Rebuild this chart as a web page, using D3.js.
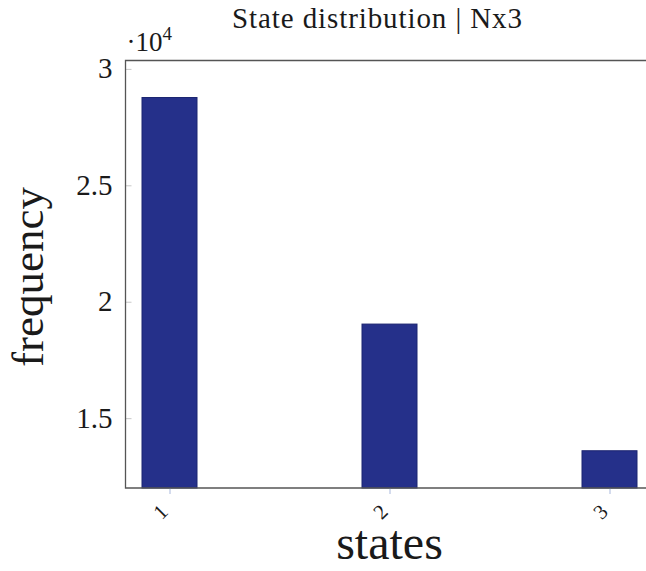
<!DOCTYPE html>
<html>
<head>
<meta charset="utf-8">
<script src="https://cdn.jsdelivr.net/npm/d3@7"></script>
<style>
  html, body { margin: 0; padding: 0; background: #fff; }
  svg { display: block; }
  text { font-family: "Liberation Serif", "DejaVu Serif", serif; fill: #1a1a1a; }
</style>
</head>
<body>
<script>
// State frequencies
const states = [1, 2, 3];
const frequency = [28770, 19040, 13600];
const yTicks = [15000, 20000, 25000, 30000];
const yTickLabels = ["1.5", "2", "2.5", "3"];
const title = "State distribution | Nx3";

const W = 646, H = 571;
const frame = { left: 125.5, right: 653.5, top: 60.5, bottom: 488 };

const svg = d3.select("body").append("svg")
  .attr("width", W).attr("height", H);

const x = d3.scaleLinear().domain([0.8, 3.2]).range([frame.left, frame.right]);
const y = d3.scaleLinear().domain([12000, 30360]).range([frame.bottom, frame.top]);

const barWidth = x(1.25) - x(1);

// Bars
svg.append("g").selectAll("rect")
  .data(states)
  .join("rect")
  .attr("x", (d) => x(d) - barWidth / 2)
  .attr("width", barWidth)
  .attr("y", (d, i) => y(frequency[i]))
  .attr("height", (d, i) => y(12000) - y(frequency[i]))
  .attr("fill", "#25308a")
  .attr("stroke", "#1b2470")
  .attr("stroke-width", 1);

// Y axis ticks (inward, faint)
const yAxis = d3.axisRight(y).tickValues(yTicks).tickSize(6).tickFormat("");
const gy = svg.append("g").attr("transform", `translate(${frame.left},0)`).call(yAxis);
gy.select(".domain").remove();
gy.selectAll("line").attr("stroke", "#c8c8c8").attr("stroke-width", 1);

svg.append("g").selectAll("text")
  .data(yTicks)
  .join("text")
  .attr("x", frame.left - 13)
  .attr("y", (d) => y(d))
  .attr("dy", "0.33em")
  .attr("text-anchor", "end")
  .attr("font-size", 29)
  .text((d, i) => yTickLabels[i]);

// X axis ticks (outward, light blue)
const xAxis = d3.axisBottom(x).tickValues(states).tickSize(6).tickFormat("");
const gx = svg.append("g").attr("transform", `translate(0,${frame.bottom})`).call(xAxis);
gx.select(".domain").remove();
gx.selectAll("line").attr("stroke", "#a9b8dc").attr("stroke-width", 1);

svg.append("g").selectAll("text")
  .data(states)
  .join("text")
  .attr("transform", (d) => `translate(${x(d) - 9},${frame.bottom + 24}) rotate(-45)`)
  .attr("text-anchor", "middle")
  .attr("dy", "0.33em")
  .attr("font-size", 21)
  .text((d) => d);

// Frame: left, top, bottom
svg.append("path")
  .attr("d", `M${frame.right},${frame.top}H${frame.left}V${frame.bottom}H${frame.right}`)
  .attr("fill", "none")
  .attr("stroke", "#555")
  .attr("stroke-width", 1.3);

// Scale multiplier
const mult = svg.append("text")
  .attr("x", frame.left + 1)
  .attr("y", 51)
  .attr("font-size", 27);
mult.append("tspan").text("·10");
mult.append("tspan").attr("dy", -11).attr("font-size", 19).text("4");

// Title
svg.append("text")
  .attr("x", 377)
  .attr("y", 28)
  .attr("text-anchor", "middle")
  .attr("font-size", 29)
  .attr("textLength", 290)
  .attr("lengthAdjust", "spacing")
  .text(title);

// Axis labels
svg.append("text")
  .attr("x", 389.5)
  .attr("y", 559)
  .attr("text-anchor", "middle")
  .attr("font-size", 48)
  .text("states");

svg.append("text")
  .attr("transform", `translate(43,277) rotate(-90)`)
  .attr("text-anchor", "middle")
  .attr("font-size", 45)
  .text("frequency");
</script>
</body>
</html>
